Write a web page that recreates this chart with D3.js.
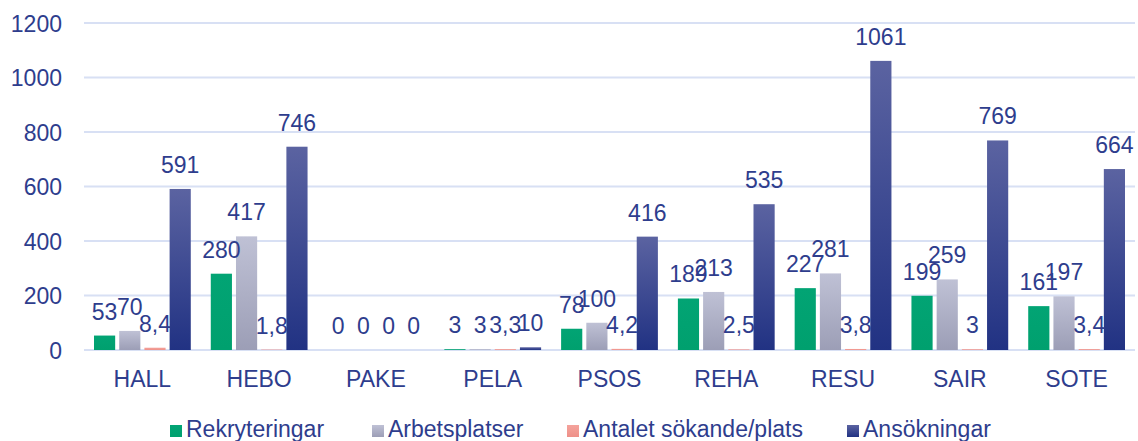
<!DOCTYPE html>
<html><head><meta charset="utf-8">
<script src="https://cdn.jsdelivr.net/npm/d3@7"></script>
<style>
html,body{margin:0;padding:0;background:#fff;}
text{font-family:"Liberation Sans",Arial,sans-serif;}
</style></head>
<body><svg id="chart" width="1138" height="441"></svg>
<script>
const categories = ["HALL","HEBO","PAKE","PELA","PSOS","REHA","RESU","SAIR","SOTE"];
const seriesNames = ["Rekryteringar","Arbetsplatser","Antalet sökande/plats","Ansökningar"];
const rekryteringar = [53,280,0,3,78,189,227,199,161];
const arbetsplatser = [70,417,0,3,100,213,281,259,197];
const antaletSokande = [8.4,1.8,0,3.3,4.2,2.5,3.8,3,3.4];
const ansokningar = [591,746,0,10,416,535,1061,769,664];
const yTicks = [0,200,400,600,800,1000,1200];

const seriesValues = [rekryteringar, arbetsplatser, antaletSokande, ansokningar];
const textColor = "#2e3d8d";
const fs = 23;

const svg = d3.select("#chart");
const defs = svg.append("defs");
function grad(id, top, bottom){
  const g = defs.append("linearGradient").attr("id", id).attr("x1",0).attr("y1",0).attr("x2",0).attr("y2",1);
  g.append("stop").attr("offset","0%").attr("stop-color",top);
  g.append("stop").attr("offset","100%").attr("stop-color",bottom);
}
grad("gGreen","#02a474","#00a06e");
grad("gGray","#bfc1d5","#9c9eb6");
grad("gPink","#f4a39c","#ee9088");
grad("gNavy","#5b63a1","#213283");
const fills = ["url(#gGreen)","url(#gGray)","url(#gPink)","url(#gNavy)"];

const x0 = d3.scaleBand().domain(categories).range([84,1135]).padding(0);
const x1 = d3.scaleBand().domain(seriesNames).range([10, x0.bandwidth()-10]).paddingInner(0.16).paddingOuter(0);
const y = d3.scaleLinear().domain([0,1200]).range([350,23]);

// gridlines
svg.append("g").selectAll("line").data(yTicks).join("line")
  .attr("x1",84).attr("x2",1135)
  .attr("y1",d=>y(d)).attr("y2",d=>y(d))
  .attr("stroke","#d8e0f4").attr("stroke-width",2);

// y axis labels
const yAxis = d3.axisLeft(y).tickValues(yTicks).tickFormat(d3.format("d")).tickSize(0).tickPadding(0);
const yg = svg.append("g").attr("transform","translate(62,0)").call(yAxis);
yg.select(".domain").remove();
yg.selectAll("text").attr("font-size",fs).attr("fill",textColor)
  .attr("font-family","Liberation Sans, Arial, sans-serif").attr("dy","0.36em");

// x axis labels
const xAxis = d3.axisBottom(x0).tickSize(0).tickPadding(0);
const xg = svg.append("g").attr("transform","translate(0,387)").call(xAxis);
xg.select(".domain").remove();
xg.selectAll("text").attr("font-size",fs).attr("fill",textColor)
  .attr("font-family","Liberation Sans, Arial, sans-serif").attr("dy",0).attr("y",0);

// bars
const groups = svg.append("g").selectAll("g").data(categories).join("g")
  .attr("transform", c => `translate(${x0(c)},0)`);
seriesNames.forEach((s, si) => {
  groups.append("rect")
    .attr("x", x1(s))
    .attr("width", x1.bandwidth())
    .attr("y", (c,i) => y(seriesValues[si][i]))
    .attr("height", (c,i) => y(0) - y(seriesValues[si][i]))
    .attr("fill", fills[si]);
});
// labels
const fmt = v => String(v).replace(".", ",");
seriesNames.forEach((s, si) => {
  groups.append("text")
    .attr("x", x1(s) + x1.bandwidth()/2)
    .attr("y", (c,i) => y(seriesValues[si][i]) - 16)
    .attr("text-anchor","middle")
    .attr("font-size", fs).attr("fill", textColor)
    .text((c,i) => fmt(seriesValues[si][i]));
});

// legend
const legendX = [170, 372, 567, 847];
const lg = svg.append("g").selectAll("g").data(seriesNames).join("g")
  .attr("transform",(d,i)=>`translate(${legendX[i]},0)`);
lg.append("rect").attr("x",0).attr("y",425).attr("width",12).attr("height",12)
  .attr("fill",(d,i)=>fills[i]);
lg.append("text").attr("x",16).attr("y",437).attr("font-size",fs).attr("fill",textColor).text(d=>d);
</script>
</body></html>
